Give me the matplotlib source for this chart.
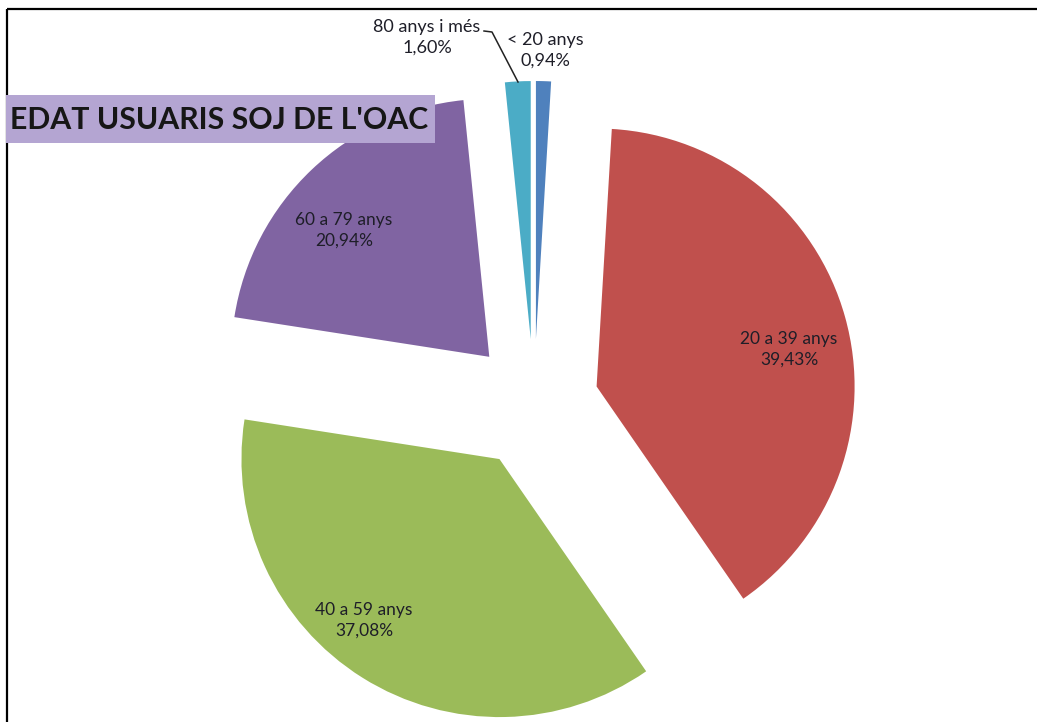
import matplotlib
matplotlib.use("Agg")
import matplotlib.pyplot as plt
from matplotlib.patches import Rectangle

plt.rcParams["font.family"] = ["Lato", "DejaVu Sans"]

W, H = 1037, 722

# data
groups = ["< 20 anys", "20 a 39 anys", "40 a 59 anys", "60 a 79 anys", "80 anys i més"]
shares = [0.94, 39.43, 37.08, 20.94, 1.60]
colors = ["#4f81bd", "#c0504d", "#9bbb59", "#8064a2", "#4bacc6"]
title = "EDAT USUARIS SOJ DE L'OAC"

# label positions in pixel coords (x, y from top)
label_pos = [(545, 50), (789, 349), (364, 620), (344, 230), (427, 37)]
label_size = [13, 12.5, 12.5, 12.5, 13]


def py(y):
    return H - y


fig = plt.figure(figsize=(W / 100, H / 100), dpi=100)
ax = fig.add_axes([0, 0, 1, 1])

ax.pie(shares, colors=colors, startangle=90, counterclock=False,
       radius=258, center=(534, py(404)), explode=[65] * len(shares),
       wedgeprops=dict(linewidth=0), frame=True)

for g, v, (x, y), fs in zip(groups, shares, label_pos, label_size):
    txt = f"{g}\n{v:.2f}%".replace(".", ",")
    ax.text(x, py(y), txt, ha="center", va="center", fontsize=fs,
            color="#1e1e28", linespacing=1.35)

# leader line for the 80+ slice
ax.plot([484, 492, 518], [py(31), py(32), py(82)], color="#222222", lw=1.1)

# title box
ax.add_patch(Rectangle((6, py(143)), 429, 48, facecolor="#b4a5d2",
                       edgecolor="none", zorder=3))
ax.text(10, py(120), title, ha="left", va="center", fontsize=21.8,
        fontweight="bold", color="#161616", zorder=4)

# frame (top and left)
ax.plot([7, W], [py(9), py(9)], color="black", lw=1.6, solid_capstyle="butt")
ax.plot([7, 7], [py(9), 0], color="black", lw=1.6, solid_capstyle="butt")

ax.set_xlim(0, W)
ax.set_ylim(0, H)
ax.set_aspect("auto")
ax.axis("off")

fig.savefig("out.png", dpi=100, facecolor="white")
